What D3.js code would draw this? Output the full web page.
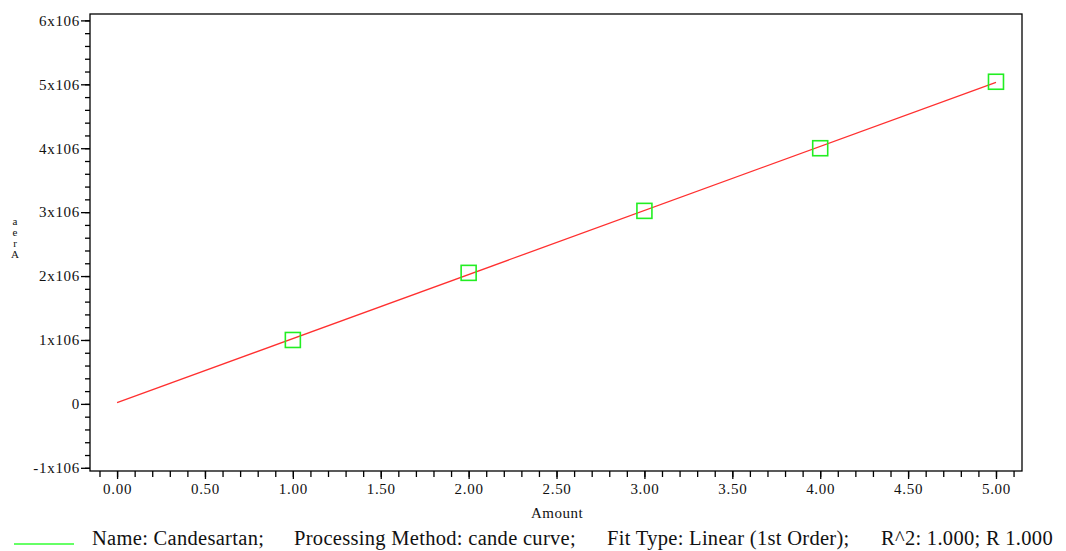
<!DOCTYPE html>
<html><head><meta charset="utf-8">
<script src="https://cdn.jsdelivr.net/npm/d3@7"></script>
<style>body{margin:0;background:#fff}svg{display:block}text{font-family:"Liberation Serif","Times New Roman",serif;fill:#111}</style>
</head><body><svg id="c" width="1066" height="551"></svg>
<script>
const amounts = [1, 2, 3, 4, 5];
const areas = [1.00e6, 2.05e6, 3.02e6, 4.00e6, 5.04e6];
const fitAmounts = [0, 5];
const fitAreas = [0.02e6, 5.03e6];
const yMajorTicks = [-1e6, 0, 1e6, 2e6, 3e6, 4e6, 5e6, 6e6];
const yTickLabels = ["-1x106", "0", "1x106", "2x106", "3x106", "4x106", "5x106", "6x106"];
const xMajorTicks = [0, 0.5, 1, 1.5, 2, 2.5, 3, 3.5, 4, 4.5, 5];
const xTickLabels = ["0.00","0.50","1.00","1.50","2.00","2.50","3.00","3.50","4.00","4.50","5.00"];
const legendParts = ["Name: Candesartan;", "Processing Method: cande curve;", "Fit Type: Linear (1st Order);", "R^2: 1.000; R 1.000"];
const legendX = [92, 294, 607, 881];

const svg = d3.select("#c");
const L = 90, R = 1022, T = 14, B = 471;
const x = d3.scaleLinear().domain([-0.154, 5.148]).range([L, R]);
const y = d3.scaleLinear().domain([-1.05e6, 6.1e6]).range([B, T]);

svg.append("rect").attr("x", L).attr("y", T).attr("width", R - L).attr("height", B - T)
  .attr("fill", "none").attr("stroke", "#000").attr("stroke-width", 1.3);

const xMinor = d3.range(-1, 52).map(i => i / 10).filter(v => x(v) > L + 1 && x(v) < R - 1);
const yMinor = d3.range(-5, 31).map(i => i * 0.2e6).filter(v => y(v) > T + 1 && y(v) < B - 1);

svg.append("g").attr("transform", `translate(0,${B})`)
  .call(d3.axisBottom(x).tickValues(xMinor).tickSize(6).tickFormat(""));
svg.append("g").attr("transform", `translate(0,${B})`)
  .call(d3.axisBottom(x).tickValues(xMajorTicks).tickSize(8).tickPadding(4)
  .tickFormat((d, i) => xTickLabels[i]));
svg.append("g").attr("transform", `translate(${L},0)`)
  .call(d3.axisLeft(y).tickValues(yMinor).tickSize(5).tickFormat(""));
svg.append("g").attr("transform", `translate(${L},0)`)
  .call(d3.axisLeft(y).tickValues(yMajorTicks).tickSize(9).tickPadding(1)
  .tickFormat((d, i) => yTickLabels[i]));
svg.selectAll(".domain").remove();
svg.selectAll(".tick line").attr("stroke", "#000").attr("stroke-width", 1.3);
svg.selectAll(".tick text").style("font-family", '"Liberation Serif",serif').style("font-size", "15px")
  .style("letter-spacing", "0.7px").attr("fill", "#222");

svg.append("text").attr("x", 557).attr("y", 518).attr("text-anchor", "middle")
  .style("font-size", "15px").style("letter-spacing", "0.5px").text("Amount");

const ylab = ["a", "e", "r", "A"];
const ylabY = [225, 236, 247, 258];
svg.selectAll(".yl").data(ylab).enter().append("text").attr("class", "yl")
  .attr("x", 15).attr("y", (d, i) => ylabY[i]).attr("text-anchor", "middle")
  .style("font-size", "11px").text(d => d);

svg.append("path").datum(fitAmounts.map((a, i) => [a, fitAreas[i]]))
  .attr("d", d3.line().x(d => x(d[0])).y(d => y(d[1])))
  .attr("stroke", "#ff3030").attr("stroke-width", 1.3).attr("fill", "none");

svg.selectAll(".pt").data(amounts).enter().append("rect").attr("class", "pt")
  .attr("x", d => x(d) - 7.5).attr("y", (d, i) => y(areas[i]) - 7.5)
  .attr("width", 15).attr("height", 15)
  .attr("fill", "none").attr("stroke", "#22ee22").attr("stroke-width", 1.6);

svg.append("line").attr("x1", 14).attr("x2", 74).attr("y1", 544).attr("y2", 544)
  .attr("stroke", "#33ff33").attr("stroke-width", 1.6);
svg.selectAll(".lg").data(legendParts).enter().append("text").attr("class", "lg")
  .attr("x", (d, i) => legendX[i]).attr("y", 545).style("font-size", "20.5px")
  .style("letter-spacing", "0.3px").text(d => d);
</script></body></html>
